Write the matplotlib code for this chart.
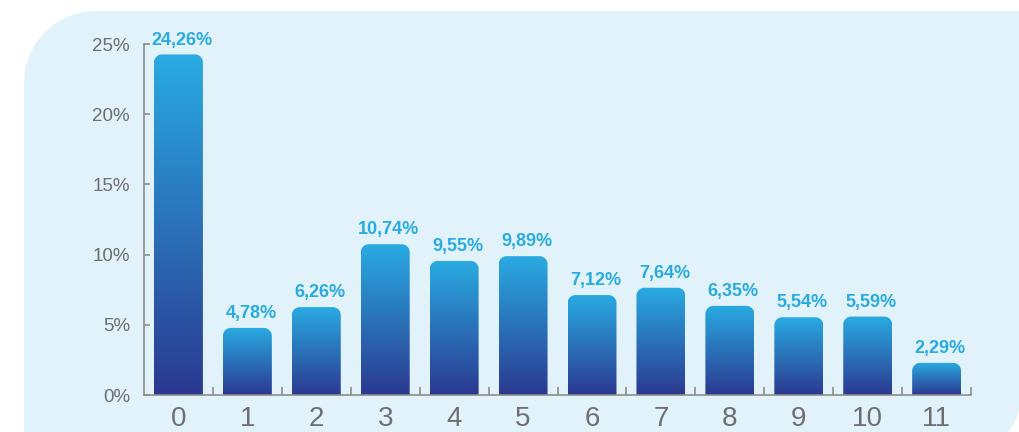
import numpy as np
import matplotlib.pyplot as plt
from matplotlib.path import Path
from matplotlib.patches import PathPatch
from matplotlib.colors import LinearSegmentedColormap
from matplotlib.transforms import IdentityTransform

categories = ['0', '1', '2', '3', '4', '5', '6', '7', '8', '9', '10', '11']
values = [24.26, 4.78, 6.26, 10.74, 9.55, 9.89, 7.12, 7.64, 6.35, 5.54, 5.59, 2.29]
y_ticks = [0, 5, 10, 15, 20, 25]
y_tick_labels = ['0%', '5%', '10%', '15%', '20%', '25%']

label_blue = '#29ABE2'
grey_text = '#6D6E71'
axis_grey = '#8C8C8C'
bg_blue = '#E1F2FA'
bar_cmap = LinearSegmentedColormap.from_list('bar', ['#2B3990', '#29ABE2'])

plt.rcParams['font.family'] = ['Liberation Sans', 'DejaVu Sans']

fig = plt.figure(figsize=(10.19, 4.32), dpi=100)


def arc(cx, cy, r, a0, a1, n=30):
    t = np.linspace(np.radians(a0), np.radians(a1), n)
    return np.column_stack([cx + r * np.cos(t), cy + r * np.sin(t)])


# panel behind the chart: large rounded top-left and bottom-right corners (pixels)
left, top = 24, 421
pts = [arc(left + 72, top - 72, 72, 180, 90),
       np.array([[1030, top]]),
       arc(961, 37, 60, 0, -90),
       np.array([[left, -23]])]
panel = Path(np.vstack(pts + [pts[0][:1]]), closed=True)
fig.patches.append(PathPatch(panel, facecolor=bg_blue, edgecolor='none',
                             transform=IdentityTransform(), zorder=-1))

ax = fig.add_axes([0.1413, 0.0856, 0.8117, 0.8125])
ax.set_zorder(1)
ax.set_facecolor('none')
ax.set_xlim(-0.5, 11.5)
ax.set_ylim(0, 25)

x = np.arange(len(values))
width = 0.71
rx, ry = 0.116, 0.57  # corner radius in data units (about 8 px each way)
grad = np.linspace(0, 1, 256).reshape(-1, 1)

for xi, v in zip(x, values):
    x0, x1 = xi - width / 2, xi + width / 2
    corner_l = arc(0, 0, 1, 180, 90, 12) * [rx, ry] + [x0 + rx, v - ry]
    corner_r = arc(0, 0, 1, 90, 0, 12) * [rx, ry] + [x1 - rx, v - ry]
    verts = np.vstack([[[x0, 0]], corner_l, corner_r, [[x1, 0]], [[x0, 0]]])
    shape = PathPatch(Path(verts, closed=True), facecolor='none',
                      edgecolor='none', transform=ax.transData)
    ax.add_patch(shape)
    im = ax.imshow(grad, cmap=bar_cmap, origin='lower', aspect='auto',
                   extent=[x0, x1, 0, v], zorder=2)
    im.set_clip_path(shape)
    ax.text(xi + 0.05, v + 0.42, f'{v:.2f}'.replace('.', ',') + '%', ha='center',
            va='bottom', color=label_blue, fontsize=13, fontweight='bold')

ax.set_xlim(-0.5, 11.5)
ax.set_ylim(0, 25)

for side in ['top', 'right']:
    ax.spines[side].set_visible(False)
for side in ['left', 'bottom']:
    ax.spines[side].set_color(axis_grey)
    ax.spines[side].set_linewidth(1.2)

ax.set_yticks(y_ticks)
ax.set_yticklabels(y_tick_labels)
ax.tick_params(axis='y', direction='in', length=4, width=1.2, color=axis_grey,
               labelcolor=grey_text, labelsize=13.5, pad=10)

ax.set_xticks(x)
ax.set_xticklabels(categories)
ax.set_xticks(np.arange(0.5, 12, 1), minor=True)
ax.tick_params(axis='x', which='major', length=0, labelcolor=grey_text,
               labelsize=20, pad=8)
ax.tick_params(axis='x', which='minor', direction='in', length=6, width=1.2,
               color=axis_grey)

fig.savefig('out.png', dpi=100, facecolor='white')
